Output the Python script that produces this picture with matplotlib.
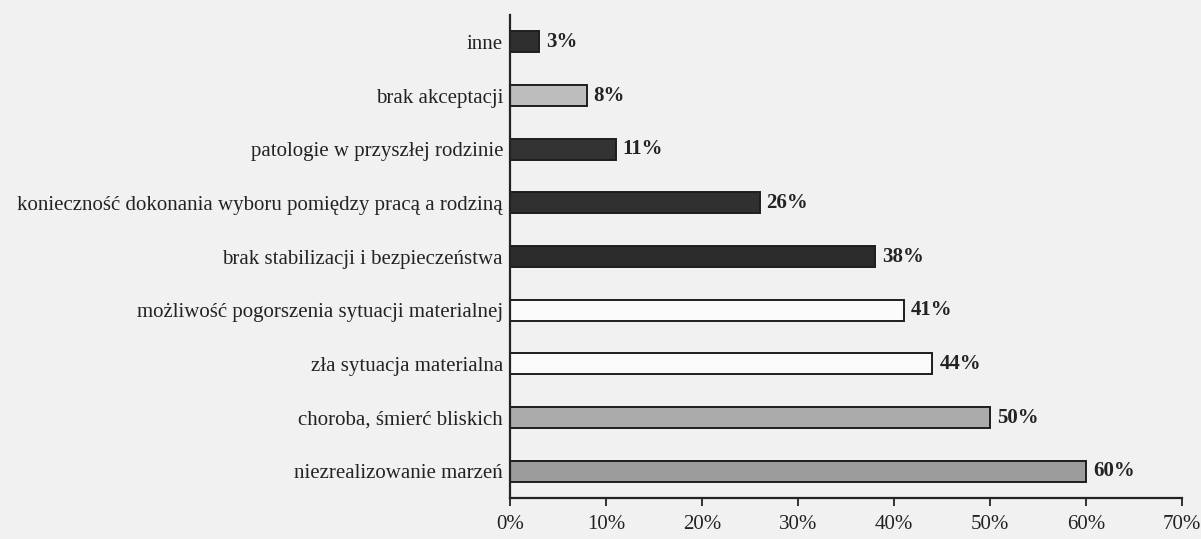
import matplotlib
matplotlib.use("Agg")
import matplotlib.pyplot as plt
from matplotlib.ticker import FixedLocator

# Reasons, listed from the top of the chart downwards
categories = [
    "inne",
    "brak akceptacji",
    "patologie w przyszłej rodzinie",
    "konieczność dokonania wyboru pomiędzy pracą a rodziną",
    "brak stabilizacji i bezpieczeństwa",
    "możliwość pogorszenia sytuacji materialnej",
    "zła sytuacja materialna",
    "choroba, śmierć bliskich",
    "niezrealizowanie marzeń",
]
values = [3, 8, 11, 26, 38, 41, 44, 50, 60]
bar_colors = ["#2f2f2f", "#bdbdbd", "#333333", "#303030", "#2c2c2c",
              "#fbfbfb", "#fbfbfb", "#ababab", "#9c9c9c"]
x_ticks = [0, 10, 20, 30, 40, 50, 60, 70]
x_tick_labels = ["0%", "10%", "20%", "30%", "40%", "50%", "60%", "70%"]

plt.rcParams["font.family"] = ["Liberation Serif", "DejaVu Serif"]
ink = "#232323"
paper = "#f1f1f1"

fig = plt.figure(figsize=(12.01, 5.39), dpi=100, facecolor=paper)
ax = fig.add_axes([0.4246, 0.076, 0.5596, 0.896])
ax.set_facecolor(paper)

ypos = list(range(len(categories)))[::-1]
bars = ax.barh(ypos, values, height=0.39, color=bar_colors,
               edgecolor="#1e1e1e", linewidth=1.4)

for y, v in zip(ypos, values):
    ax.annotate(f"{v}%", xy=(v, y), xytext=(5, 0), textcoords="offset points",
                ha="left", va="center", fontsize=15, fontweight="bold",
                color=ink)

ax.set_xlim(0, 70)
ax.set_ylim(-0.5, len(categories) - 0.5)
ax.xaxis.set_major_locator(FixedLocator(x_ticks))
ax.set_xticklabels(x_tick_labels, fontsize=15, color=ink)
ax.set_yticks(ypos)
ax.set_yticklabels(categories, fontsize=15, color=ink)
ax.tick_params(axis="y", length=0, pad=5)
ax.tick_params(axis="x", length=6, width=1.3, color=ink, pad=6, direction="out")

for side in ("top", "right"):
    ax.spines[side].set_visible(False)
for side in ("left", "bottom"):
    ax.spines[side].set_color(ink)
    ax.spines[side].set_linewidth(1.6)

fig.savefig("out.png", dpi=100, facecolor=paper)
